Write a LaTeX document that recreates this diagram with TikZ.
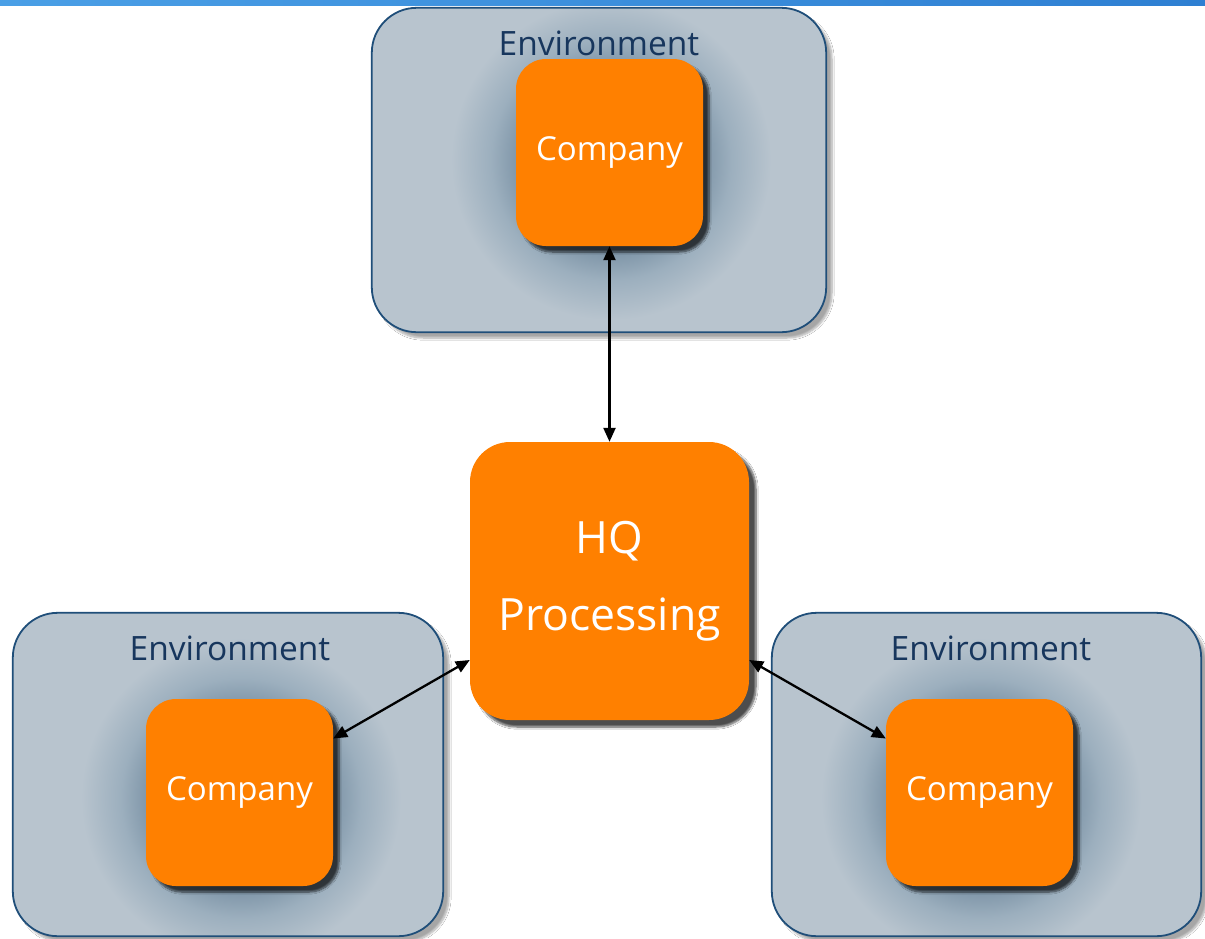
\documentclass[tikz,border=0pt]{standalone}
\usepackage{fontspec}
\setmainfont{Open Sans}
\usetikzlibrary{shadows.blur,arrows.meta,calc}
\definecolor{envfill}{HTML}{B8C4CE}
\definecolor{envline}{HTML}{1F4E79}
\definecolor{envtext}{HTML}{17365D}
\definecolor{glow}{HTML}{7C93A6}
\definecolor{glowmid}{HTML}{9CAFBE}
\definecolor{orng}{HTML}{FF8000}
\definecolor{barL}{HTML}{4A9FE6}
\definecolor{barR}{HTML}{2E7FD2}
\pgfdeclareradialshading{envglow}{\pgfpoint{0bp}{0bp}}{color(0bp)=(glow); color(9bp)=(glow); color(12bp)=(glowmid); color(16bp)=(envfill); color(50bp)=(envfill)}
\tikzset{
  envbox/.style={rectangle, rounded corners=45pt, fill=envfill, inner sep=0pt,
    blur shadow={shadow xshift=6pt, shadow yshift=-6pt, shadow opacity=35, shadow blur steps=8}},
  envborder/.style={draw=envline, line width=1.8pt, rounded corners=45pt},
  envlabel/.style={text=envtext, font=\fontsize{33.5}{38}\selectfont, inner sep=0pt},
  glowspot/.style={shading=envglow},
  company/.style={rectangle, rounded corners=30pt, fill=orng, text=white,
    minimum width=187pt, minimum height=187pt, inner sep=0pt,
    font=\fontsize{33}{38}\selectfont,
    blur shadow={shadow xshift=6pt, shadow yshift=-6pt, shadow opacity=70, shadow blur steps=8}},
  hqbox/.style={rectangle, rounded corners=40pt, fill=orng, text=white,
    minimum width=279pt, minimum height=278pt, inner sep=0pt, align=center,
    font=\fontsize{44.5}{77}\selectfont,
    blur shadow={shadow xshift=7pt, shadow yshift=-7pt, shadow opacity=70, shadow blur steps=8}},
  conn/.style={line width=2.3pt, {Triangle[length=14pt,width=12pt]}-{Triangle[length=14pt,width=12pt]}}
}
\begin{document}
\begin{tikzpicture}[x=1pt,y=-1pt]
\useasboundingbox (0,0) rectangle (1205,938);
\fill[white] (0,0) rectangle (1205,938);
\shade[left color=barL, right color=barR] (0,0) rectangle (1205,5);

% environments
\node[envbox, minimum width=454pt, minimum height=324pt] (e1) at (599,170) {};
\node[envbox, minimum width=430pt, minimum height=323pt] (e2) at (228,774.5) {};
\node[envbox, minimum width=429pt, minimum height=323pt] (e3) at (986.5,774.5) {};

\begin{scope}
\clip[rounded corners=45pt] (e1.north west) rectangle (e1.south east);
\shade[glowspot] (611,160) circle (250pt);
\end{scope}
\begin{scope}
\clip[rounded corners=45pt] (e2.north west) rectangle (e2.south east);
\shade[glowspot] (241,798) circle (250pt);
\end{scope}
\begin{scope}
\clip[rounded corners=45pt] (e3.north west) rectangle (e3.south east);
\shade[glowspot] (981,798) circle (250pt);
\end{scope}

\draw[envborder] (e1.north west) rectangle (e1.south east);
\draw[envborder] (e2.north west) rectangle (e2.south east);
\draw[envborder] (e3.north west) rectangle (e3.south east);

\node[envlabel] (l1) at (599,43) {Environment};
\node[envlabel] (l2) at (230,648) {Environment};
\node[envlabel] (l3) at (991,648) {Environment};

% companies
\node[company] (c1) at (609.5,152.5) {Company};
\node[company] (c2) at (239.5,792.5) {Company};
\node[company] (c3) at (979.5,792.5) {Company};

% HQ
\node[hqbox] (hq) at (609.5,581) {HQ\\Processing};

% connectors
\draw[conn] (c1.south) -- (hq.north);
\draw[conn] ([yshift=54pt]c2.east) -- ([yshift=-79pt]hq.west);
\draw[conn] ([yshift=-79pt]hq.east) -- ([yshift=54pt]c3.west);
\end{tikzpicture}
\end{document}
